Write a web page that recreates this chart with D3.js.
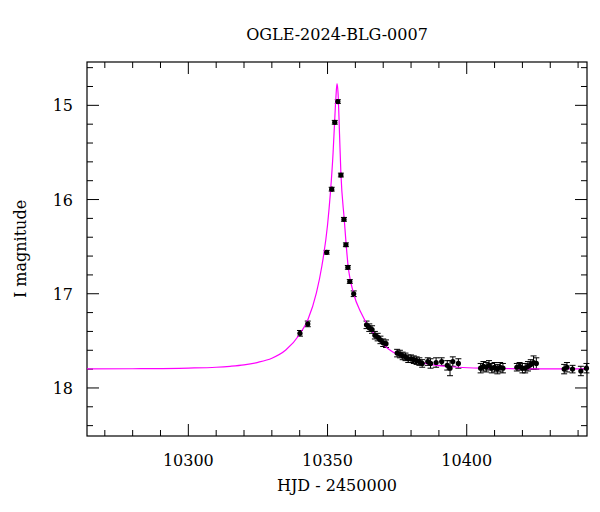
<!DOCTYPE html>
<html><head><meta charset="utf-8">
<script src="https://cdn.jsdelivr.net/npm/d3@7"></script>
<style>body{margin:0;background:#fff}svg{font-family:"DejaVu Serif",serif}</style>
</head><body><svg id="c" width="600" height="512"></svg>
<script>
const title = "OGLE-2024-BLG-0007";
const xLabel = "HJD - 2450000";
const yLabel = "I magnitude";
const xTicks = [10300, 10350, 10400];
const yTicks = [15, 16, 17, 18];
// observed photometry
const obsT = [10340.1,10342.9,10349.7,10351.5,10352.6,10353.7,10354.8,10355.9,10356.6,10357.3,10358.0,10359.4,
 10364,10365,10366,10367,10368,10369,10370,10371,10375,10376,10377,10378,10379,10380,10381,10382,10383,10384,10386,10387,10389,10391,10393,10394,10395,10397,
 10405,10406,10407,10408,10409,10410,10411,10412,10413,10418,10419,10420,10421,10422,10423,10424,10425,10435,10436,10438,10441,10443];
const obsMag = [17.42,17.32,16.56,15.89,15.18,14.96,15.74,16.21,16.48,16.72,16.87,17.00,
 17.33,17.36,17.38,17.44,17.46,17.49,17.52,17.53,17.63,17.64,17.66,17.67,17.69,17.69,17.70,17.71,17.72,17.74,17.72,17.74,17.73,17.72,17.76,17.79,17.72,17.74,
 17.79,17.77,17.78,17.76,17.79,17.78,17.80,17.78,17.79,17.78,17.77,17.79,17.79,17.77,17.75,17.73,17.74,17.80,17.78,17.80,17.82,17.79];
const obsErr = [0.03,0.03,0.02,0.02,0.02,0.02,0.02,0.02,0.02,0.02,0.02,0.03,
 0.04,0.04,0.04,0.04,0.04,0.04,0.04,0.04,0.04,0.04,0.04,0.04,0.04,0.04,0.04,0.04,0.04,0.04,0.04,0.05,0.05,0.04,0.05,0.08,0.05,0.05,
 0.05,0.05,0.05,0.05,0.05,0.05,0.05,0.05,0.05,0.04,0.04,0.05,0.05,0.05,0.05,0.07,0.06,0.05,0.05,0.04,0.05,0.05];
// model curve
const modelT = [10263.6,10280,10300,10310,10315,10320,10325,10330,10335,10340,10343,10346,10348,10350,10351,10352,10352.5,10353,10353.4,10353.8,10354.3,10354.8,10356,10357.3,10359.4,10362,10365,10368,10372,10377,10387,10397,10407,10427,10443.2];
const modelMag = [17.798,17.796,17.789,17.780,17.770,17.755,17.728,17.684,17.597,17.43,17.27,16.99,16.70,16.27,15.94,15.50,15.20,14.92,14.77,14.88,15.30,15.72,16.21,16.68,17.00,17.20,17.36,17.47,17.59,17.67,17.75,17.78,17.79,17.797,17.798];

const svg = d3.select("#c");
const L=87,R=587,T=62,B=436;
const x = d3.scaleLinear().domain([10263.6,10443.2]).range([L,R]);
const y = d3.scaleLinear().domain([14.54,18.51]).range([T,B]);

svg.append("rect").attr("x",L).attr("y",T).attr("width",R-L).attr("height",B-T).attr("fill","none").attr("stroke","#000").attr("stroke-width",1.2);
const g = svg.append("g");
function ticks(vals, len, horiz){
  vals.forEach(v=>{
    if(horiz){
      const px=x(v);
      g.append("line").attr("x1",px).attr("x2",px).attr("y1",B).attr("y2",B-len).attr("stroke","#000");
      g.append("line").attr("x1",px).attr("x2",px).attr("y1",T).attr("y2",T+len).attr("stroke","#000");
    } else {
      const py=y(v);
      g.append("line").attr("x1",L).attr("x2",L+len).attr("y1",py).attr("y2",py).attr("stroke","#000");
      g.append("line").attr("x1",R).attr("x2",R-len).attr("y1",py).attr("y2",py).attr("stroke","#000");
    }
  });
}
ticks(d3.range(10270,10441,10).filter(v=>!xTicks.includes(v)),6,true);
ticks(xTicks,12,true);
ticks(d3.range(14.6,18.5,0.2).map(v=>+v.toFixed(1)).filter(v=>!yTicks.includes(v)),6,false);
ticks(yTicks,12,false);
xTicks.forEach(v=>svg.append("text").attr("x",x(v)).attr("y",B+30).attr("text-anchor","middle").attr("font-size",16).text(v));
yTicks.forEach(v=>svg.append("text").attr("x",L-14).attr("y",y(v)+6).attr("text-anchor","end").attr("font-size",16).text(v));
svg.append("text").attr("x",(L+R)/2).attr("y",491).attr("text-anchor","middle").attr("font-size",16).text(xLabel);
svg.append("text").attr("transform",`translate(26,${(T+B)/2}) rotate(-90)`).attr("text-anchor","middle").attr("font-size",16).text(yLabel);
svg.append("text").attr("x",(L+R)/2).attr("y",40).attr("text-anchor","middle").attr("font-size",16).text(title);

const pts = obsT.map((t,i)=>({t,m:obsMag[i],e:obsErr[i]}));
const eg = svg.append("g").attr("stroke","#000").attr("stroke-width",1);
pts.forEach(p=>{
  const px=x(p.t);
  eg.append("line").attr("x1",px).attr("x2",px).attr("y1",y(p.m-p.e)).attr("y2",y(p.m+p.e));
  [p.m-p.e,p.m+p.e].forEach(v=>eg.append("line").attr("x1",px-3).attr("x2",px+3).attr("y1",y(v)).attr("y2",y(v)));
});
svg.append("path").datum(modelT.map((t,i)=>[t,modelMag[i]]))
  .attr("d",d3.line().x(d=>x(d[0])).y(d=>y(d[1])).curve(d3.curveMonotoneX))
  .attr("fill","none").attr("stroke","#ff00ff").attr("stroke-width",1.2);
svg.append("g").selectAll("circle").data(pts).join("circle")
  .attr("cx",d=>x(d.t)).attr("cy",d=>y(d.m)).attr("r",2.6).attr("fill","#000");
</script></body></html>
